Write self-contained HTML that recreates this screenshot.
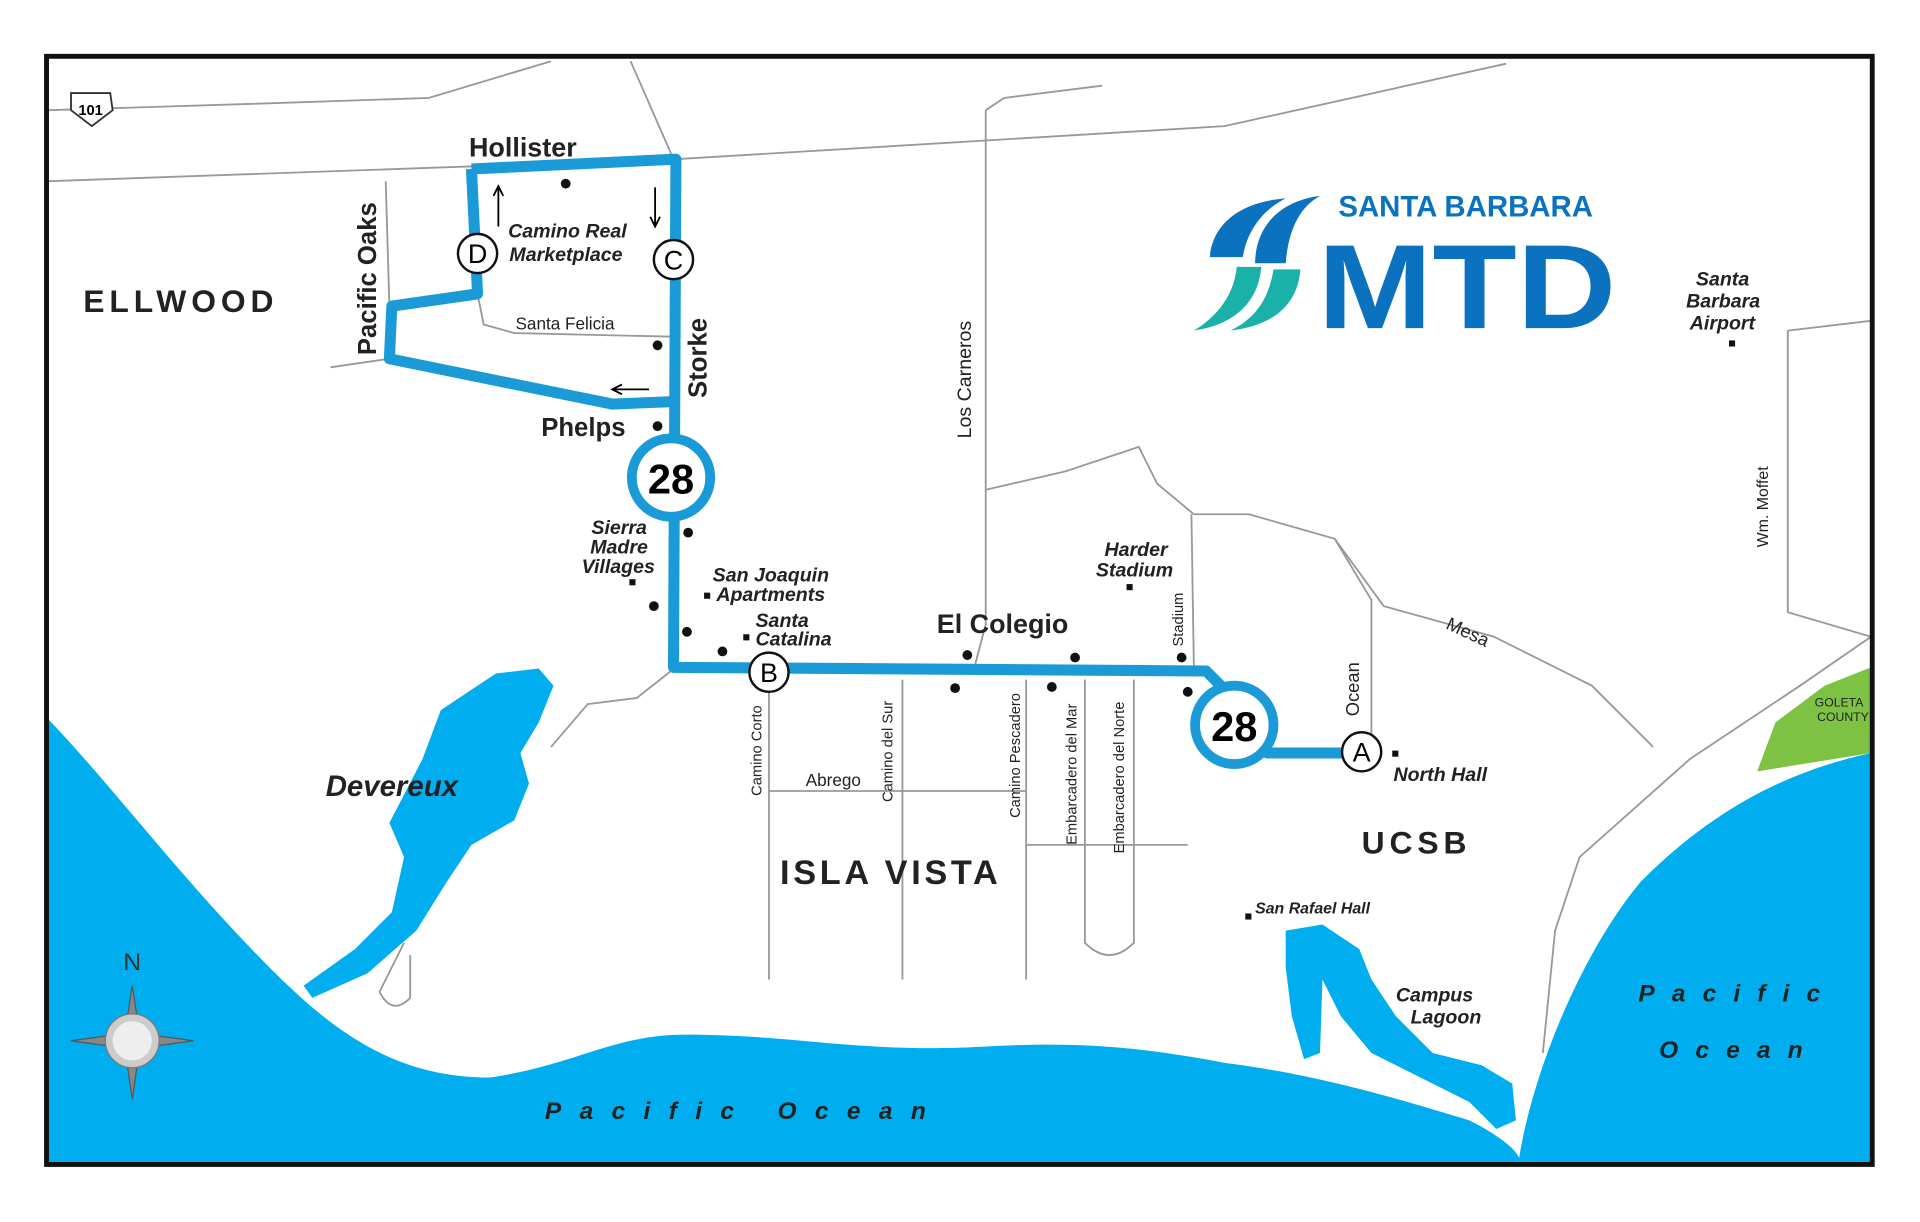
<!DOCTYPE html>
<html><head><style>html,body{margin:0;padding:0;background:#fff}svg{display:block}</style></head>
<body>
<svg width="1920" height="1222" viewBox="0 0 1568 998" preserveAspectRatio="none" xmlns="http://www.w3.org/2000/svg" font-family="Liberation Sans, sans-serif">
<rect x="0" y="0" width="1568" height="998" fill="#fff"/>
<!-- oceans -->
<path d="M40,588 C90,640 150,720 220,790 C270,840 320,880 400,880 C470,870 500,845 560,845 C650,845 700,860 800,855 C880,850 930,855 1000,868 C1080,878 1150,900 1200,915 C1230,930 1245,945 1240,950 L40,950 Z" fill="#00aeef"/>
<path d="M1240,950 C1250,880 1290,780 1340,720 C1400,660 1460,630 1528,615 L1528,950 Z" fill="#00aeef"/>
<path d="M1435,630 L1450,590 L1490,560 L1528,545 L1528,615 Z" fill="#7dc242"/>
<text x="1482" y="577" font-size="10" fill="#222">GOLETA</text><text x="1484" y="589" font-size="10" fill="#222">COUNTY</text>
<!-- Devereux -->
<path d="M405,550 L440,546 L452,560 L440,590 L425,615 L432,640 L420,670 L385,690 L365,720 L340,760 L300,795 L255,815 L248,805 L290,775 L320,745 L330,700 L318,672 L345,620 L360,580 Z" fill="#00aeef"/>
<!-- Campus lagoon -->
<path d="M1050,760 L1080,755 L1110,775 L1120,800 L1140,830 L1170,860 L1210,870 L1235,885 L1238,915 L1222,922 L1200,900 L1170,885 L1120,860 L1095,830 L1080,800 L1078,860 L1065,865 L1055,830 L1050,790 Z" fill="#00aeef"/>
<!-- roads -->
<g stroke="#999" stroke-width="1.5" fill="none">
<path d="M40,148 L552,130 L1000,103 L1230,52"/>
<path d="M40,90 L200,85 L350,80 L450,50"/>
<path d="M515,50 L550,130"/>
<path d="M390,240 L395,265 L420,272 L550,275"/>
<path d="M315,148 L318,250"/><path d="M270,300 L318,293"/>
<path d="M805,90 L805,510 L795,548"/><path d="M805,90 L820,80 L900,70"/>
<path d="M805,400 L870,385 L930,365 L945,395 L975,420 L1020,420 L1090,440 L1130,495 L1220,520 L1300,560 L1350,610"/>
<path d="M973,420 L975,545"/>
<path d="M1090,440 L1120,490 L1120,610"/>
<path d="M1460,270 L1528,262"/><path d="M1460,270 L1460,500 L1528,520"/>
<path d="M1528,520 L1470,560 L1380,620 L1290,700 L1270,760 L1260,860"/>
<path d="M548,548 L520,570 L480,575 L450,610"/>
<path d="M628,560 L628,800"/><path d="M737,555 L737,800"/><path d="M838,555 L838,800"/>
<path d="M628,646 L838,646"/>
<path d="M886,555 L886,770 Q906,790 926,770 L926,555"/>
<path d="M838,690 L970,690"/>
<path d="M330,770 L310,810 Q320,830 335,815 L335,780"/>
</g>
<!-- route -->
<g stroke="#1b9ad8" stroke-width="9" fill="none" stroke-linejoin="round">
<path d="M385,138 L552,130 L550,545 L985,548 L1005,568 L1035,615 L1112,615"/>
<path d="M385,138 L390,240 L320,250 L318,293 L500,330 L550,328"/>
</g>
<!-- arrows -->
<g stroke="#000" stroke-width="1.5" fill="none">
<path d="M407,185 L407,152 M403,160 L407,152 L411,160"/>
<path d="M535,153 L535,185 M531,177 L535,185 L539,177"/>
<path d="M530,318 L500,318 M508,314 L500,318 L508,322"/>
</g>
<!-- stops -->
<g fill="#111">
<circle cx="462" cy="150" r="4"/><circle cx="537" cy="282" r="4"/><circle cx="537" cy="348" r="4"/>
<circle cx="562" cy="435" r="4"/><circle cx="534" cy="495" r="4"/><circle cx="561" cy="516" r="4"/><circle cx="590" cy="532" r="4"/>
<circle cx="790" cy="535" r="4"/><circle cx="878" cy="537" r="4"/><circle cx="965" cy="537" r="4"/>
<circle cx="780" cy="562" r="4"/><circle cx="859" cy="561" r="4"/><circle cx="970" cy="565" r="4"/>
<rect x="514" y="473" width="5" height="5"/><rect x="575" y="484" width="5" height="5"/><rect x="607" y="518" width="5" height="5"/>
<rect x="920" y="477" width="5" height="5"/><rect x="1137" y="613" width="5" height="5"/><rect x="1412" y="278" width="5" height="5"/><rect x="1017" y="746" width="5" height="5"/>
</g>
<!-- 28 circles -->
<g stroke="#1b9ad8" stroke-width="8" fill="#fff">
<circle cx="548" cy="390" r="32"/><circle cx="1008" cy="592" r="32"/>
</g>
<text x="548" y="403" font-size="34" font-weight="bold" text-anchor="middle">28</text>
<text x="1008" y="605" font-size="34" font-weight="bold" text-anchor="middle">28</text>
<g stroke="#111" stroke-width="2" fill="#fff">
<circle cx="390" cy="207" r="16"/><circle cx="550" cy="212" r="16"/><circle cx="628" cy="549" r="16"/><circle cx="1112" cy="614" r="16"/>
</g>
<g font-size="22" text-anchor="middle">
<text x="390" y="215">D</text><text x="550" y="220">C</text><text x="628" y="557">B</text><text x="1112" y="622">A</text>
</g>
<!-- labels -->
<g fill="#222" font-weight="bold">
<text x="383" y="128" font-size="22">Hollister</text>
<text x="442" y="356" font-size="21">Phelps</text>
<text x="765" y="517" font-size="22">El Colegio</text>
<text x="68" y="255" font-size="26" letter-spacing="4">ELLWOOD</text>
<text x="637" y="722" font-size="28" letter-spacing="3">ISLA VISTA</text>
<text x="1112" y="697" font-size="26" letter-spacing="4">UCSB</text>
<text transform="translate(307,290) rotate(-90)" font-size="21">Pacific Oaks</text>
<text transform="translate(577,325) rotate(-90)" font-size="21">Storke</text>
</g>
<g fill="#222" font-weight="bold" font-style="italic" font-size="16">
<text x="415" y="194">Camino Real</text><text x="416" y="213">Marketplace</text>
<text x="483" y="436">Sierra</text><text x="482" y="452">Madre</text><text x="475" y="468">Villages</text>
<text x="582" y="475">San Joaquin</text><text x="585" y="491">Apartments</text>
<text x="617" y="512">Santa</text><text x="617" y="527">Catalina</text>
<text x="902" y="454">Harder</text><text x="895" y="471">Stadium</text>
<text x="1138" y="638">North Hall</text>
<text x="1385" y="233">Santa</text><text x="1377" y="251">Barbara</text><text x="1380" y="269">Airport</text>
<text x="1140" y="818">Campus</text><text x="1152" y="836">Lagoon</text>
<text x="1025" y="746" font-size="13">San Rafael Hall</text>
<text x="266" y="650" font-size="24">Devereux</text>
<text x="445" y="914" font-size="20" letter-spacing="15">Pacific Ocean</text>
<text x="1338" y="818" font-size="20" letter-spacing="14">Pacific</text>
<text x="1355" y="864" font-size="20" letter-spacing="14">Ocean</text>
</g>
<g fill="#222" font-size="14">
<text x="421" y="269">Santa Felicia</text>
<text x="658" y="642">Abrego</text>
<text transform="translate(793,358) rotate(-90)" font-size="16">Los Carneros</text>
<text transform="translate(622,650) rotate(-90)" font-size="12">Camino Corto</text>
<text transform="translate(729,655) rotate(-90)" font-size="12">Camino del Sur</text>
<text transform="translate(833,668) rotate(-90)" font-size="12">Camino Pescadero</text>
<text transform="translate(879,690) rotate(-90)" font-size="12">Embarcadero del Mar</text>
<text transform="translate(918,697) rotate(-90)" font-size="12">Embarcadero del Norte</text>
<text transform="translate(966,528) rotate(-90)" font-size="12">Stadium</text>
<text transform="translate(1110,585) rotate(-90)" font-size="15">Ocean</text>
<text transform="translate(1444,447) rotate(-90)" font-size="13">Wm. Moffet</text>
<text transform="translate(1180,513) rotate(25)" font-size="15">Mesa</text>
</g>
<!-- 101 shield -->
<path d="M58,76 L90,76 L92,90 L75,103 L58,90 Z" fill="#fff" stroke="#333" stroke-width="1.5"/>
<text x="74" y="94" font-size="12" text-anchor="middle" font-weight="bold">101</text>
<!-- logo -->
<path d="M1050,162 C1010,165 990,185 988,210 L1015,210 C1018,190 1030,172 1050,162 Z" fill="#0a72bf"/>
<path d="M1078,160 C1040,165 1025,190 1025,215 L1050,215 C1052,190 1060,170 1078,160 Z" fill="#0a72bf"/>
<path d="M975,270 C1010,265 1028,245 1030,218 L1010,218 C1008,240 995,258 975,270 Z" fill="#1ab2a8"/>
<path d="M1005,270 C1045,265 1060,245 1062,220 L1040,220 C1036,245 1025,260 1005,270 Z" fill="#1ab2a8"/>
<text x="1093" y="177" font-size="24" font-weight="bold" fill="#0a72bf">SANTA BARBARA</text>
<text x="1076" y="268" font-size="98" font-weight="bold" fill="#0a72bf" textLength="244" lengthAdjust="spacingAndGlyphs">MTD</text>
<!-- compass -->
<g transform="translate(108,850)">
<path d="M0,-45 L6,-6 L50,0 L6,6 L0,48 L-6,6 L-50,0 L-6,-6 Z" fill="#888" stroke="#555"/>
<circle r="22" fill="#ccc" stroke="#777"/>
<circle r="16" fill="#eee"/>
<text x="0" y="-58" font-size="20" text-anchor="middle" fill="#333">N</text>
</g>
<!-- frame -->
<rect x="38" y="46" width="1491" height="905" fill="none" stroke="#111" stroke-width="4"/>
</svg>
</body></html>
